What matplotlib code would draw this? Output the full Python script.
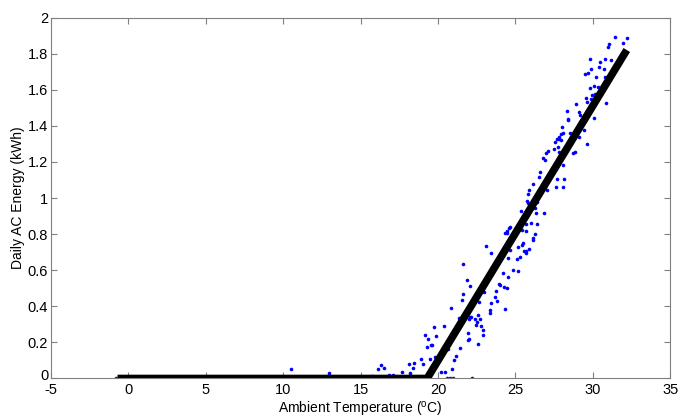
import numpy as np
import matplotlib.pyplot as plt
from matplotlib.transforms import ScaledTranslation

# daily samples (deg C, kWh)
temp = [
    -0.8, 5.2, 5.7, 6.1, 6.6, 7.2, 7.8, 8.4, 9.0, 9.5, 10.1, 10.8, 11.3, 11.9,
    12.4, 13.5, 14.1, 14.6, 15.2, 15.9, 16.5, 17.0, 17.4, 17.9, 18.5, 19.0,
    20.6, 20.8, 21.0, 22.2,
    10.5, 12.95, 15.72, 16.13, 16.34, 16.54, 16.86, 17.08, 17.66, 18.13, 18.47,
    18.17, 18.37, 18.92, 19.05, 19.18, 19.37, 19.27, 19.55, 19.59, 19.76, 19.85,
    20.37, 19.48, 19.8, 20.45, 20.19, 21.42, 21.16, 21.03, 20.67, 20.88, 21.92,
    22.6,
    23.12, 23.46, 21.63, 21.89, 22.06, 21.63, 21.55, 20.82, 22.63, 22.97, 23.40,
    23.72, 23.68, 23.83, 23.96, 23.34, 22.13, 21.98, 22.39, 22.56, 22.71, 22.45,
    22.77, 22.88, 22.92, 21.96, 22.02, 21.38, 22.07, 22.5, 23.35, 24.32, 24.04,
    24.26, 24.43, 24.21, 24.5, 24.86, 25.18, 25.08, 25.29, 24.65,
    26.6, 26.54, 27.03, 26.17, 25.87, 25.85, 25.76, 25.79, 26.37, 26.15, 26.3,
    25.35, 26.32, 26.84, 26.04, 26.41, 25.72, 26.28, 25.4, 24.6, 24.45, 24.34,
    24.47, 26.15, 25.5, 25.42, 25.2, 25.87, 25.53, 25.72, 25.66, 24.54, 24.65,
    25.72, 26.15,
    29.95, 29.87, 30.17, 28.9, 29.12, 29.2, 28.34, 28.39, 28.02, 28.06, 27.94,
    27.8, 27.83, 27.7, 27.92, 27.55, 28.52, 29.44, 29.1, 29.66, 27.76, 27.5,
    27.14, 27.01, 27.83, 28.84, 28.73, 26.82, 26.92, 28.08, 27.7, 28.15, 27.61,
    28.08,
    31.42, 32.21, 31.03, 31.01, 31.96, 30.79, 31.16, 30.45, 29.81, 30.41, 30.73,
    29.87, 29.72, 29.48, 30.19, 30.77, 30.11, 29.81, 30.37, 30.13, 29.59, 29.63,
    28.39, 30.11, 30.84,
]
energy = [
    0, 0, 0, 0, 0, 0, 0, 0, 0, 0, 0, 0, 0, 0,
    0, 0, 0, 0, 0, 0, 0, 0, 0, 0, 0, 0,
    0, 0, 0, 0,
    0.053, 0.031, 0.016, 0.053, 0.077, 0.06, 0.018, 0.018, 0.034, 0.08, 0.084,
    0.029, 0.056, 0.106, 0.082, 0.24, 0.22, 0.176, 0.184, 0.185, 0.284, 0.234,
    0.29, 0.106, 0.12, 0.038, 0.038, 0.167, 0.126, 0.102, 0.162, 0.051, 0.213,
    0.191,
    0.734, 0.695, 0.633, 0.546, 0.512, 0.466, 0.435, 0.39, 0.424, 0.481, 0.418,
    0.486, 0.45, 0.431, 0.522, 0.365, 0.341, 0.331, 0.328, 0.352, 0.328, 0.295,
    0.291, 0.269, 0.241, 0.25, 0.22, 0.337, 0.342, 0.315, 0.379, 0.385, 0.518,
    0.509, 0.5, 0.583, 0.561, 0.601, 0.596, 0.662, 0.675, 0.841,
    1.146, 1.118, 1.044, 1.076, 1.044, 1.02, 0.983, 0.974, 0.978, 0.952, 0.946,
    0.93, 0.919, 0.915, 0.86, 0.856, 0.816, 0.80, 0.824, 0.835, 0.819, 0.804,
    0.806, 0.767, 0.752, 0.741, 0.73, 0.716, 0.708, 0.705, 0.694, 0.666, 0.712,
    0.856, 0.777,
    1.571, 1.548, 1.576, 1.521, 1.476, 1.46, 1.48, 1.432, 1.392, 1.358, 1.353,
    1.34, 1.329, 1.325, 1.321, 1.309, 1.358, 1.377, 1.336, 1.297, 1.284, 1.27,
    1.26, 1.248, 1.256, 1.256, 1.248, 1.22, 1.211, 1.183, 1.104, 1.104, 1.063,
    1.063,
    1.892, 1.886, 1.853, 1.838, 1.857, 1.77, 1.766, 1.753, 1.772, 1.727, 1.713,
    1.715, 1.694, 1.685, 1.672, 1.672, 1.62, 1.611, 1.617, 1.558, 1.552, 1.534,
    1.44, 1.445, 1.528,
]

# fitted change-point model
fit_x = [-0.7, 19.3, 32.2]
fit_y = [0, 0, 1.82]

plt.rcParams['font.family'] = ['Liberation Sans', 'DejaVu Sans']
plt.rcParams['mathtext.fontset'] = 'custom'
plt.rcParams['mathtext.rm'] = 'Liberation Sans'
plt.rcParams['mathtext.it'] = 'Liberation Sans'
plt.rcParams['axes.unicode_minus'] = False

fig = plt.figure(figsize=(6.81, 4.18), dpi=100)
ax = fig.add_axes([0.0749, 0.0945, 0.9091, 0.8636])

ax.plot(temp, energy, 'o', color='#0000ff', markersize=2.6, markeredgewidth=0)
ax.plot(fit_x, fit_y, '-', color='k', linewidth=5.5, solid_capstyle='butt')

ax.set_xlim(-5, 35)
ax.set_ylim(0, 2)
ax.set_xticks(np.arange(-5, 36, 5))
ax.set_yticks(np.arange(0, 2.01, 0.2))
ax.set_yticklabels(['0', '0.2', '0.4', '0.6', '0.8', '1', '1.2', '1.4', '1.6', '1.8', '2'])

for s in ax.spines.values():
    s.set_color('#808080')
    s.set_linewidth(0.8)
ax.tick_params(direction='in', length=4, width=0.8, color='#808080',
               labelsize=10.5, labelcolor='black', top=True, right=True,
               labeltop=False, labelright=False)
ax.tick_params(axis='y', pad=2)

# lift the y "0" a little so it clears the x "-5", as in the original
lab0 = ax.yaxis.get_major_ticks()[0].label1
lab0.set_transform(lab0.get_transform() + ScaledTranslation(0, 3.5 / 100, fig.dpi_scale_trans))

ax.set_xlabel(r'Ambient Temperature ($^{\rm o}$C)', fontsize=10, labelpad=2)
ax.set_ylabel('Daily AC Energy (kWh)', fontsize=10, labelpad=2)

fig.savefig('out.png', dpi=100)
